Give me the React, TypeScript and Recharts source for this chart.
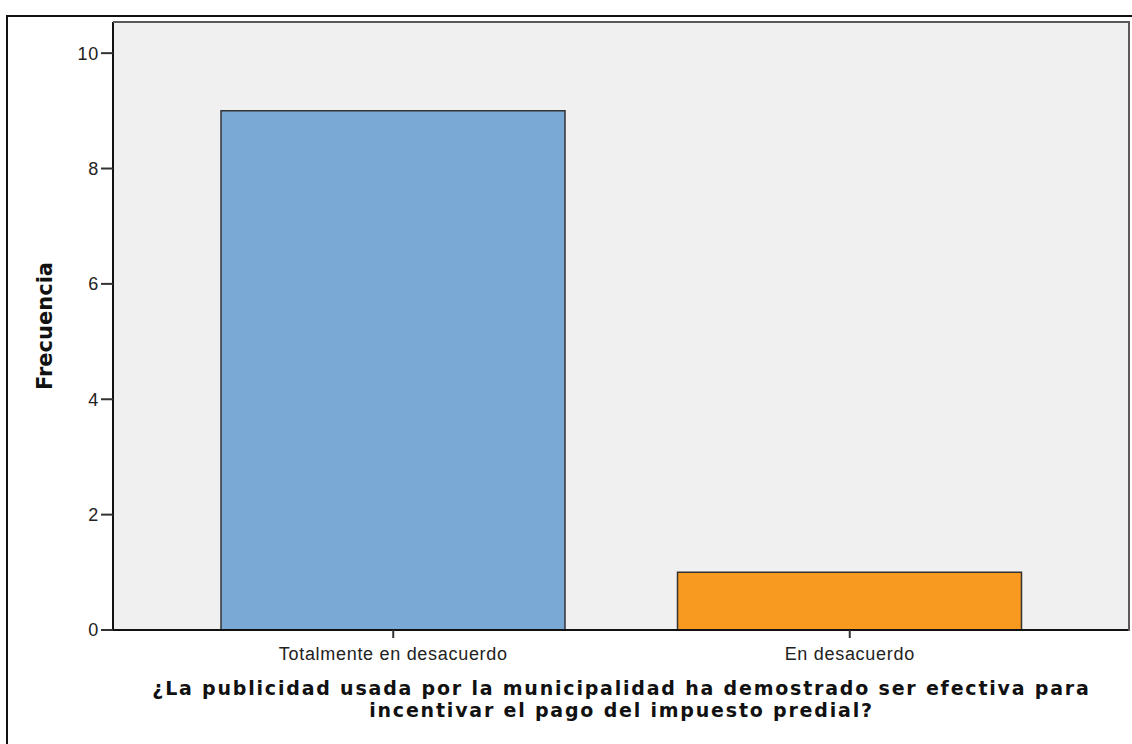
import React from 'react';
import { BarChart, Bar, XAxis, YAxis, CartesianGrid, Cell, Label } from 'recharts';

const categories = ['Totalmente en desacuerdo', 'En desacuerdo'];
const frecuencias = [9, 1];
const barColors = ['#7aa9d6', '#f89a20'];
const yTicks = [0, 2, 4, 6, 8, 10];
const yMax = 10.54;

const titleLines = [
  '¿La publicidad usada por la municipalidad ha demostrado ser efectiva para',
  'incentivar el pago del impuesto predial?',
];
const yTitle = 'Frecuencia';

const data = categories.map((name, i) => ({ name, value: frecuencias[i] }));

const tickFont = { fontFamily: 'Liberation Sans, Arial, sans-serif', fontSize: 18, fill: '#222', letterSpacing: 0.7 };
const titleFont = { fontFamily: 'DejaVu Sans, sans-serif', fontSize: 19, fontWeight: 'bold' as const, fill: '#111', letterSpacing: 1.8 };

const App: React.FC = () => {
  return (
    <div style={{ position: 'absolute', left: 0, top: 0, width: 1132, height: 744, background: '#fff', overflow: 'hidden' }}>
      {/* outer frame, only left and top show in the crop */}
      <div style={{ position: 'absolute', left: 6, top: 15, width: 1140, height: 740, borderLeft: '2px solid #111', borderTop: '2px solid #111' }} />
      <div style={{ position: 'absolute', left: 0, top: 0 }}>
        <BarChart width={1132} height={744} data={data} margin={{ top: 22, right: 2, bottom: 84, left: 0 }}>
          <CartesianGrid fill="#f0f0f0" horizontal={false} vertical={false} />
          <XAxis
            dataKey="name"
            height={30}
            padding={{ left: 52, right: 52 }}
            axisLine={{ stroke: '#111', strokeWidth: 2 }}
            tickLine={{ stroke: '#333', strokeWidth: 2 }}
            tickSize={8}
            tickMargin={9}
            tick={tickFont}
            interval={0}
          >
            <Label
              content={(props: any) => {
                const vb = props.viewBox || {};
                const cx = (vb.x ?? 113) + (vb.width ?? 1017) / 2;
                return (
                  <g>
                    {titleLines.map((line, i) => (
                      <text key={i} x={cx} y={695 + i * 22} textAnchor="middle" {...titleFont}>{line}</text>
                    ))}
                  </g>
                );
              }}
            />
          </XAxis>
          <YAxis
            width={113}
            domain={[0, yMax]}
            ticks={yTicks}
            allowDataOverflow
            axisLine={{ stroke: '#111', strokeWidth: 2 }}
            tickLine={{ stroke: '#333', strokeWidth: 2 }}
            tickSize={12}
            tickMargin={2}
            tick={tickFont}
          >
            <Label
              content={() => (
                <text
                  x={52}
                  y={326}
                  transform="rotate(-90 52 326)"
                  textAnchor="middle"
                  {...titleFont}
                  fontSize={21}
                  letterSpacing={0}
                >
                  {yTitle}
                </text>
              )}
            />
          </YAxis>
          <Bar dataKey="value" barSize={344} stroke="#333" strokeWidth={1.5} isAnimationActive={false}>
            {data.map((d, i) => (
              <Cell key={d.name} fill={barColors[i % barColors.length]} />
            ))}
          </Bar>
        </BarChart>
      </div>
      {/* plot frame (top and right edges) */}
      <div style={{ position: 'absolute', left: 113, top: 21, width: 1015, height: 608, borderTop: '2px solid #5a5a5a', borderRight: '2px solid #5a5a5a', pointerEvents: 'none' }} />
    </div>
  );
};

export default App;
